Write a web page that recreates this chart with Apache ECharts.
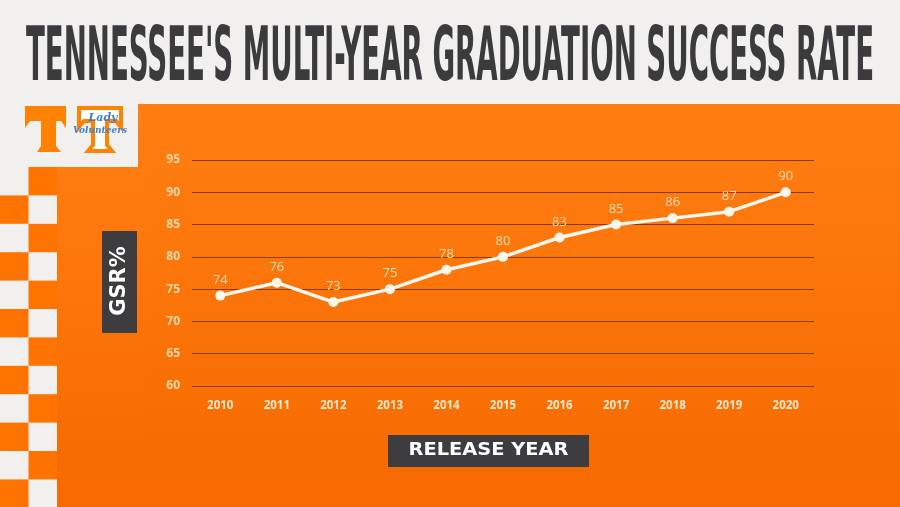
<!DOCTYPE html>
<html>
<head>
<meta charset="utf-8">
<script src="https://cdn.jsdelivr.net/npm/echarts@6/dist/echarts.min.js"></script>
<style>
  html, body { margin: 0; padding: 0; background: #f1f0ef; }
  #chart { width: 900px; height: 507px; }
</style>
</head>
<body>
<div id="chart"></div>
<script>
// 数据
var years = ['2010', '2011', '2012', '2013', '2014', '2015', '2016', '2017', '2018', '2019', '2020'];
var gsr = [74, 76, 73, 75, 78, 80, 83, 85, 86, 87, 90];
var yMin = 60;
var yMax = 95;
var yStep = 5;

var titleText = "TENNESSEE'S MULTI-YEAR GRADUATION SUCCESS RATE";
var titleFont = 'bold 74px "Liberation Sans Narrow", "DejaVu Sans Condensed", sans-serif';

// 标题宽度 => 压扁到 848px
function measure(font, txt) {
  var c = document.createElement('canvas').getContext('2d');
  c.font = font;
  return c.measureText(txt).width;
}
var titleScale = 848 / measure(titleFont, titleText);

var checker = [];
// 左侧棋盘格
for (var r = 0; r < 12; r++) {
  var rowY = 167 + r * 28.4;
  checker.push({
    type: 'rect', z: -90,
    shape: { x: r % 2 === 0 ? 28.5 : 0, y: rowY, width: 28.5, height: 28.4 },
    style: { fill: '#FF7400' }
  });
}

var chart = echarts.init(document.getElementById('chart'));
chart.setOption({
  backgroundColor: '#f1f0ef',
  animation: false,
  grid: { left: 192, right: 86, top: 160, bottom: 121 },
  xAxis: {
    type: 'category',
    data: years,
    axisLine: { show: false },
    axisTick: { show: false },
    axisLabel: {
      color: '#FFE9CC', fontWeight: 'bold', fontSize: 11.5, margin: 14,
      fontFamily: '"Open Sans", sans-serif'
    }
  },
  yAxis: {
    type: 'value',
    min: yMin, max: yMax, interval: yStep,
    axisLine: { show: false },
    axisTick: { show: false },
    splitLine: { lineStyle: { color: '#8A3A05', width: 1 } },
    axisLabel: {
      color: '#FDDAA8', fontWeight: 'bold', fontSize: 12, margin: 12,
      fontFamily: '"Open Sans", sans-serif'
    }
  },
  series: [{
    type: 'line',
    data: gsr,
    symbol: 'circle',
    symbolSize: 10,
    itemStyle: { color: '#FFF6EC' },
    lineStyle: { color: '#FFF6EC', width: 3.5 },
    label: {
      show: true, position: 'top', distance: 4,
      color: '#FFDDB0', fontSize: 13, fontFamily: '"Open Sans", sans-serif'
    },
    z: 5
  }],
  graphic: [
    // 橙色背景
    {
      type: 'rect', z: -100,
      shape: { x: 138, y: 104, width: 762, height: 403 },
      style: {
        fill: new echarts.graphic.LinearGradient(0, 0, 0, 1, [
          { offset: 0, color: '#FF7E12' },
          { offset: 1, color: '#F66A00' }
        ])
      }
    },
    {
      type: 'rect', z: -100,
      shape: { x: 57, y: 167, width: 90, height: 340 },
      style: {
        fill: new echarts.graphic.LinearGradient(0, 0, 0, 1, [
          { offset: 0, color: '#FF7C10' },
          { offset: 1, color: '#F66A00' }
        ])
      }
    }
  ].concat(checker).concat([
    // 标题
    {
      type: 'text', z: 10,
      x: 26, y: 61, scaleX: titleScale,
      style: {
        text: titleText, font: titleFont, fill: '#3B3B3D',
        verticalAlign: 'middle', align: 'left'
      }
    },
    // Power T
    {
      type: 'polygon', z: 10,
      shape: {
        points: [[25, 106], [66, 106], [66, 128], [61, 121], [56, 121], [56, 146],
                 [61, 152], [37, 152], [41, 146], [41, 121], [30, 121], [25, 128]]
      },
      style: { fill: '#FF8200' }
    },
    // Lady Vols T
    {
      type: 'polygon', z: 10,
      shape: {
        points: [[79, 108], [121, 108], [121, 127], [116, 121], [107, 121], [107, 145],
                 [112, 151], [88, 151], [93, 145], [93, 121], [84, 121], [79, 127]]
      },
      style: { fill: '#ffffff', stroke: '#FF8200', lineWidth: 4 }
    },
    {
      type: 'text', z: 11, x: 103, y: 118,
      style: {
        text: 'Lady', fill: '#3F7FD0', align: 'center', verticalAlign: 'middle',
        font: 'italic bold 11px "DejaVu Serif", serif'
      }
    },
    {
      type: 'text', z: 11, x: 100, y: 131,
      style: {
        text: 'Volunteers', fill: '#3F7FD0', align: 'center', verticalAlign: 'middle',
        font: 'italic bold 9px "DejaVu Serif", serif'
      }
    },
    // Y 轴标题
    {
      type: 'rect', z: 10,
      shape: { x: 102, y: 231, width: 35, height: 102 },
      style: { fill: '#3D3D3F' }
    },
    {
      type: 'text', z: 11, x: 120, y: 281, rotation: Math.PI / 2,
      style: {
        text: 'GSR%', fill: '#ffffff', align: 'center', verticalAlign: 'middle',
        font: 'bold 21px "DejaVu Sans", sans-serif'
      }
    },
    // X 轴标题
    {
      type: 'rect', z: 10,
      shape: { x: 388, y: 435, width: 201, height: 32 },
      style: { fill: '#3D3D3F' }
    },
    {
      type: 'text', z: 11, x: 488.5, y: 451, scaleX: 1.14,
      style: {
        text: 'RELEASE YEAR', fill: '#ffffff', align: 'center', verticalAlign: 'middle',
        font: 'bold 17px "DejaVu Sans", sans-serif'
      }
    }
  ])
});
</script>
</body>
</html>
